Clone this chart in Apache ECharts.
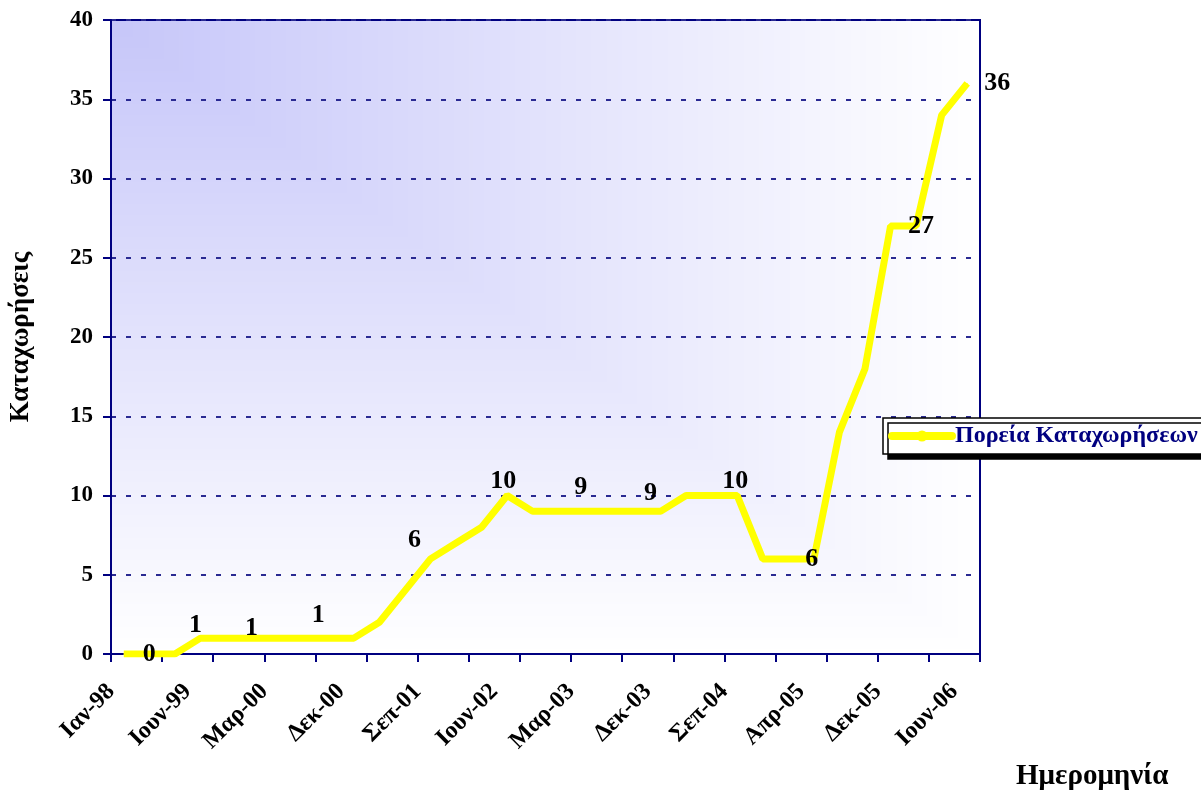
<!DOCTYPE html>
<html>
<head>
<meta charset="utf-8">
<style>
  html, body { margin: 0; padding: 0; background: #ffffff; }
  #chart { width: 1201px; height: 791px; }
</style>
<script src="https://cdn.jsdelivr.net/npm/echarts@6/dist/echarts.min.js"></script>
</head>
<body>
<div id="chart"></div>
<script>
// ημερομηνίες (34 σημεία)
const categories = [
  'Ιαν-98', 'Ιουν-98', 'Δεκ-98', 'Ιουν-99', 'Σεπ-99', 'Δεκ-99', 'Μαρ-00', 'Ιουν-00', 'Σεπ-00',
  'Δεκ-00', 'Μαρ-01', 'Ιουν-01', 'Σεπ-01', 'Δεκ-01', 'Μαρ-02', 'Ιουν-02', 'Σεπ-02', 'Δεκ-02',
  'Μαρ-03', 'Ιουν-03', 'Σεπ-03', 'Δεκ-03', 'Μαρ-04', 'Ιουν-04', 'Σεπ-04', 'Δεκ-04', 'Φεβ-05',
  'Απρ-05', 'Ιουν-05', 'Σεπ-05', 'Δεκ-05', 'Φεβ-06', 'Απρ-06', 'Ιουν-06'
]
// καταχωρήσεις
const values = [0, 0, 0, 1, 1, 1, 1, 1, 1, 1, 2, 4, 6, 7, 8, 10, 9, 9, 9, 9, 9, 9, 10, 10, 10, 6, 6, 6, 14, 18, 27, 27, 34, 36]
// ετικέτες άξονα x (κάθε 3 σημεία)
const tickLabels = ['Ιαν-98', 'Ιουν-99', 'Μαρ-00', 'Δεκ-00', 'Σεπ-01', 'Ιουν-02', 'Μαρ-03', 'Δεκ-03', 'Σεπ-04', 'Απρ-05', 'Δεκ-05', 'Ιουν-06']
// σημεία με ετικέτα τιμής
const labelled = [1, 3, 5, 8, 12, 15, 18, 21, 24, 27, 31, 33]

const FONT = "'Liberation Serif', 'Times New Roman', serif"
const NAVY = '#000080'

// μετατόπιση κάθε ετικέτας σε σχέση με το σημείο
const labelOffsets = {
  1: [0, 0], 3: [-5, -13], 5: [0, -10], 8: [-10, -23], 12: [-16, -19], 15: [-4, -14],
  18: [-3, -24], 21: [-10, -18], 24: [-2, -14], 27: [-2, 0], 31: [5, 0], 33: [30, 0]
}

const seriesData = values.map((v, i) => {
  if (labelled.indexOf(i) < 0) return v
  return { value: v, label: { show: true, offset: labelOffsets[i] } }
})

// φόντο περιοχής σχεδίασης: διαβάθμιση από τη γωνία (πάνω αριστερά -> λευκό)
const PW = 870
const PH = 634
function cornerGradient() {
  const cvs = document.createElement('canvas')
  cvs.width = PW
  cvs.height = PH
  const ctx = cvs.getContext('2d')
  const img = ctx.createImageData(PW, PH)
  const c0 = [198, 198, 249]
  const c1 = [255, 255, 255]
  for (let y = 0; y < PH; y++) {
    for (let x = 0; x < PW; x++) {
      const t = Math.max(x / PW, y / PH)
      const k = (y * PW + x) * 4
      img.data[k] = c0[0] + (c1[0] - c0[0]) * t
      img.data[k + 1] = c0[1] + (c1[1] - c0[1]) * t
      img.data[k + 2] = c0[2] + (c1[2] - c0[2]) * t
      img.data[k + 3] = 255
    }
  }
  ctx.putImageData(img, 0, 0)
  return cvs
}

const chart = echarts.init(document.getElementById('chart'))
chart.setOption({
  backgroundColor: '#ffffff',
  animation: false,
  graphic: [
    {
      type: 'image',
      left: 110,
      top: 20,
      z: -10,
      silent: true,
      style: { image: cornerGradient(), width: PW, height: PH }
    }
  ],
  title: {
    text: 'Ημερομηνία',
    left: 1016,
    top: 762,
    padding: 0,
    textStyle: { fontFamily: FONT, fontWeight: 'bold', fontSize: 29, color: '#000000' }
  },
  legend: {
    left: 883,
    top: 418,
    padding: [6, 12, 6, 5],
    itemWidth: 60,
    itemHeight: 14,
    itemGap: 0,
    backgroundColor: '#ffffff',
    borderColor: '#000000',
    borderWidth: 1.5,
    borderRadius: 0,
    shadowColor: '#000000',
    shadowBlur: 0,
    shadowOffsetX: 5,
    shadowOffsetY: 5,
    lineStyle: { color: '#ffff00', width: 8, cap: 'round' },
    itemStyle: { color: '#ffff00', borderWidth: 0 },
    textStyle: { fontFamily: FONT, fontWeight: 'bold', fontSize: 24, color: NAVY, padding: [0, 0, 0, -2] },
    data: ['Πορεία Καταχωρήσεων']
  },
  grid: {
    left: 110,
    top: 20,
    width: PW,
    height: PH,
    show: true,
    borderColor: NAVY,
    borderWidth: 2,
    backgroundColor: 'transparent'
  },
  xAxis: [
    {
      type: 'category',
      data: categories,
      boundaryGap: true,
      axisLine: { lineStyle: { color: NAVY, width: 2 } },
      axisTick: { show: true, interval: 1, length: 8, lineStyle: { color: NAVY, width: 2 } },
      axisLabel: { show: false },
      splitLine: { show: false }
    },
    {
      type: 'value',
      min: 0,
      max: 34,
      interval: 3,
      position: 'bottom',
      axisLine: { show: false },
      axisTick: { show: false },
      splitLine: { show: false },
      axisLabel: {
        rotate: 45,
        margin: 34,
        showMaxLabel: false,
        fontFamily: FONT,
        fontWeight: 'bold',
        fontSize: 24,
        color: '#000000',
        formatter: (v) => (v % 3 === 0 ? tickLabels[v / 3] : '')
      }
    }
  ],
  yAxis: {
    type: 'value',
    min: 0,
    max: 40,
    interval: 5,
    name: 'Καταχωρήσεις',
    nameLocation: 'middle',
    nameGap: 76,
    nameTextStyle: { fontFamily: FONT, fontWeight: 'bold', fontSize: 27, color: '#000000' },
    axisLine: { show: true, lineStyle: { color: NAVY, width: 2 } },
    axisTick: { show: true, length: 8, lineStyle: { color: NAVY, width: 2 } },
    axisLabel: { margin: 18, fontFamily: FONT, fontWeight: 'bold', fontSize: 23, color: '#000000' },
    splitLine: { show: true, lineStyle: { color: '#2a2a92', width: 2, type: [5, 10] } }
  },
  series: [
    {
      name: 'Πορεία Καταχωρήσεων',
      type: 'line',
      xAxisIndex: 0,
      data: seriesData,
      symbol: 'circle',
      symbolSize: 1,
      showSymbol: true,
      color: '#ffff00',
      itemStyle: { color: '#ffff00' },
      lineStyle: { color: '#ffff00', width: 7 },
      label: {
        show: false,
        position: 'inside',
        fontFamily: FONT,
        fontWeight: 'bold',
        fontSize: 26,
        color: '#000000'
      },
      z: 3
    }
  ]
})
</script>
</body>
</html>
